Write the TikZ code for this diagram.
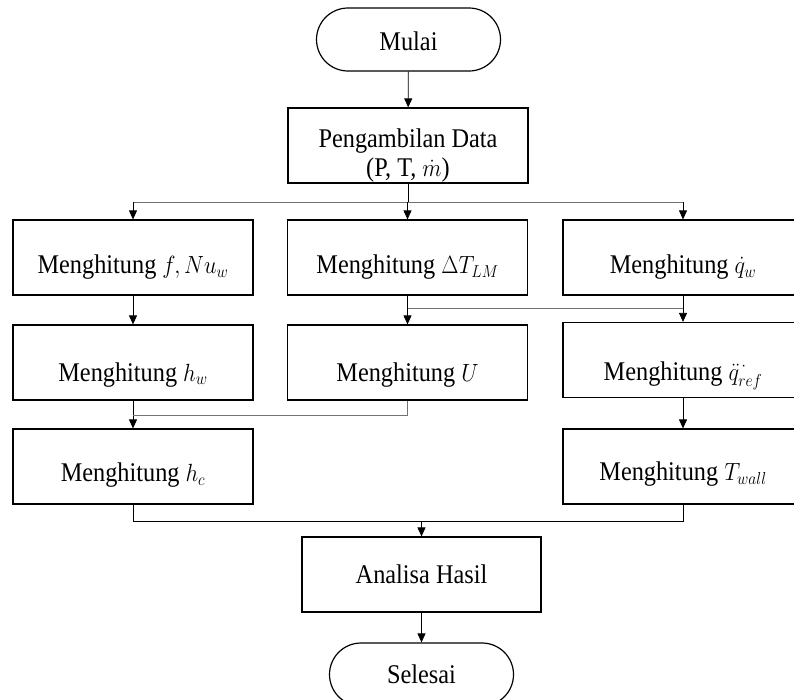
\documentclass[tikz,border=0pt]{standalone}
\usepackage{graphicx}
\usepackage{fontspec}
\setmainfont{Liberation Serif}
\usetikzlibrary{arrows.meta,shapes.misc}
\newcommand\sq[1]{\scalebox{0.9}[1]{#1}}
\begin{document}
\begin{tikzpicture}[x=1pt,y=-1pt,
  txt/.style={font=\fontsize{27}{32}\selectfont,align=center,inner sep=0pt},
  box/.style={txt,draw,line width=1.2pt,minimum width=240pt,minimum height=75pt,text height=#1,text depth=0pt},
  box/.default=32pt,
  term/.style={txt,draw,line width=1.2pt,rounded rectangle,minimum width=184pt,minimum height=63pt,text height=#1,text depth=0pt},
  term/.default=21pt,
  ln/.style={line width=0.8pt},
  gln/.style={line width=0.8pt,draw=black!55},
  arr/.style={line width=0.8pt,-{Triangle[length=9pt,width=8pt]}}]
\useasboundingbox (0,0) rectangle (794,699);

\node[term] (mulai) at (408.5,39.5) {\sq{Mulai}};
\node[box] (peng) at (408,145.5) {};
\node[txt,anchor=base] (peng1) at (408,147) {\sq{Pengambilan Data}};
\node[txt,anchor=base] (peng2) at (408,176) {\sq{(P, T, $\dot{m}$)}};

\node[box] (b1) at (133,257.5) {\sq{Menghitung $f, Nu_w$}};
\node[box] (b2) at (407.5,257.5) {\sq{Menghitung $\Delta T_{LM}$}};
\node[box] (b3) at (683,257.5) {\sq{Menghitung $\dot{q}_w$}};

\node[box=37pt] (b4) at (133,362.5) {\sq{Menghitung $h_w$}};
\node[box=37pt] (b5) at (407.5,362.5) {\sq{Menghitung $U$}};
\node[box=40pt] (b6) at (683,360) {\sq{Menghitung $\ddot{q}^{\,\cdot}_{ref}$}};

\node[box=30pt] (b7) at (133,466.5) {\sq{Menghitung $h_c$}};
\node[box=28pt] (b8) at (683,466.5) {\sq{Menghitung $T_{wall}$}};

\node[box=18pt,minimum width=239pt] (ana) at (421.5,574.5) {\sq{Analisa Hasil}};
\node[term=17pt] (sel) at (421.5,674.5) {\sq{Selesai}};

\coordinate (j1) at (408,202);
\coordinate (j2) at (407.5,308);
\coordinate (j3) at (133,415);
\coordinate (j4) at (421.5,521);

% start -> data
\draw[arr] (mulai) -- (peng);
% data -> row 1
\draw[ln] (peng.south) -- (j1);
\draw[gln] (b1.north |- j1) -- (b3.north |- j1);
\draw[arr] (b1.north |- j1) -- (b1.north);
\draw[arr] (b2.north |- j1) -- (b2.north);
\draw[arr] (b3.north |- j1) -- (b3.north);
% row 1 -> row 2
\draw[arr] (b1) -- (b4);
\draw[ln] (b2.south) -- (j2);
\draw[ln] (b3.south) -- (b3.south |- j2);
\draw[gln] (j2) -- (b3.south |- j2);
\draw[arr] (j2) -- (b5.north);
\draw[arr] (b3.south |- j2) -- (b6.north);
% row 2 -> row 3
\draw[arr] (b4) -- (b7);
\draw[gln] (b5.south) |- (j3);
\draw[arr] (b6) -- (b8);
% row 3 -> result
\draw[ln] (b7.south) -- (b7.south |- j4) -- (b8.south |- j4) -- (b8.south);
\draw[arr] (j4) -- (ana.north);
\draw[arr] (ana) -- (sel);
\end{tikzpicture}
\end{document}
